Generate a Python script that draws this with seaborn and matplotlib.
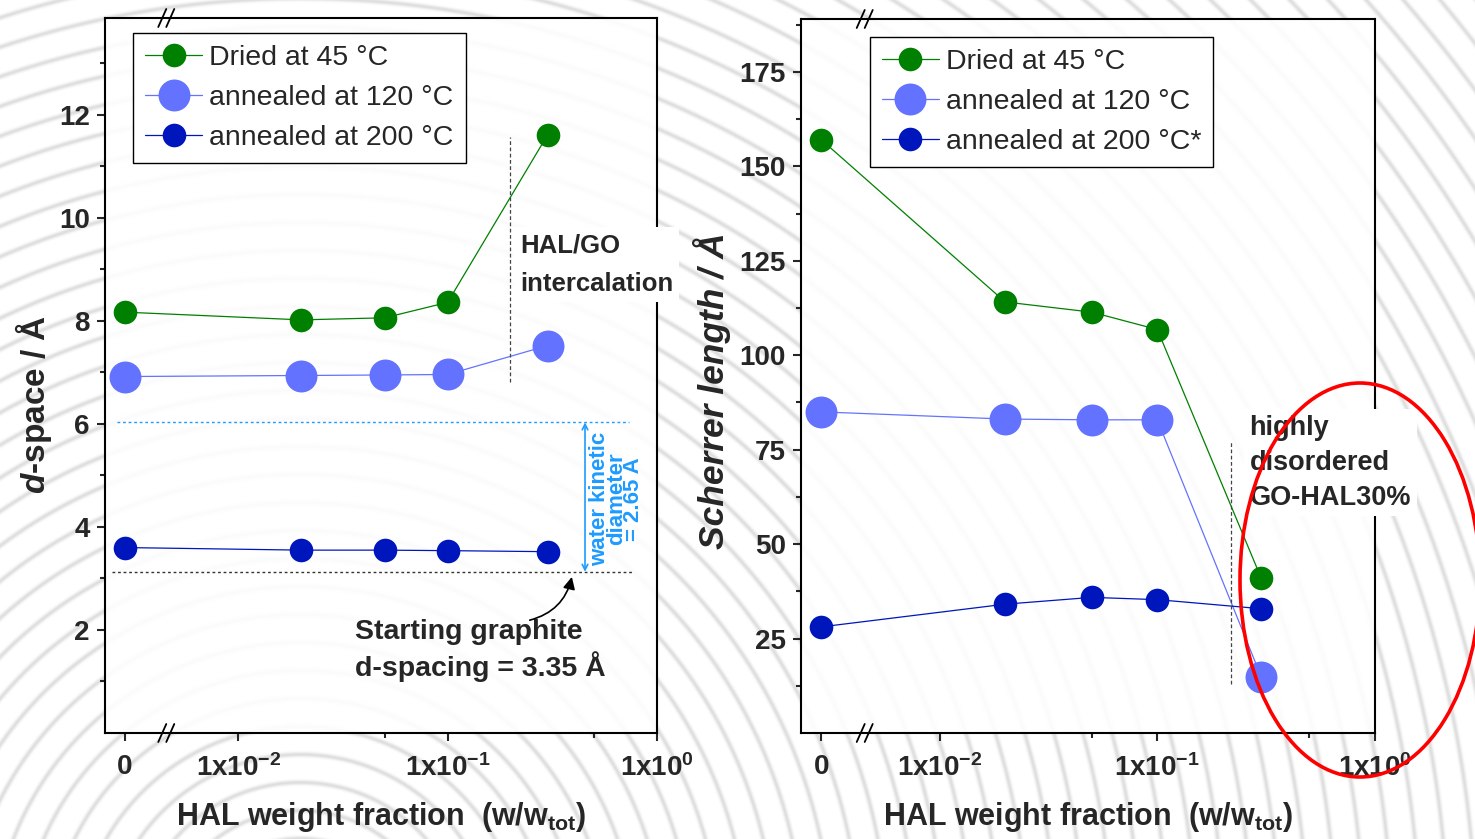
import numpy as np
import matplotlib
matplotlib.use("Agg")
import matplotlib.pyplot as plt
import seaborn as sns
from matplotlib.patches import Ellipse
from matplotlib.ticker import FixedLocator

# HAL weight fraction (w/w_tot), 0 = plain GO
hal_frac = [0, 0.02, 0.05, 0.1, 0.3]

# d-space / A
dspace_45 = [8.17, 8.02, 8.06, 8.36, 11.61]
dspace_120 = [6.92, 6.94, 6.95, 6.96, 7.52]
dspace_200 = [3.60, 3.55, 3.55, 3.54, 3.52]

# Scherrer length / A
scherrer_45 = [157.0, 114.1, 111.4, 106.8, 41.0]
scherrer_120 = [85.0, 83.1, 82.9, 82.9, 14.9]
scherrer_200 = [28.1, 34.1, 35.9, 35.3, 32.9]

labels_left = ["Dried at 45 °C", "annealed at 120 °C", "annealed at 200 °C"]
labels_right = ["Dried at 45 °C", "annealed at 120 °C", "annealed at 200 °C*"]
colors = ["#008000", "#6373ff", "#0016bd"]
msizes = [17, 23, 17]

graphite_line = 3.13   # black dotted reference line
water_line = 6.03      # cyan dotted line (3.35 + 2.65)

xtick_vals = [0, 0.01, 0.1, 1]
xtick_labels = ["0", r"1x10$^{-2}$", r"1x10$^{-1}$", r"1x10$^{0}$"]
xminor_vals = [0.05, 0.5]

sns.set_style("ticks")
plt.rcParams['font.family'] = ['Liberation Sans', 'DejaVu Sans']
plt.rcParams['font.weight'] = 'bold'
plt.rcParams['axes.labelweight'] = 'bold'
plt.rcParams['mathtext.fontset'] = 'custom'
plt.rcParams['mathtext.default'] = 'bf'
plt.rcParams['mathtext.bf'] = 'Liberation Sans:bold'
plt.rcParams['mathtext.rm'] = 'Liberation Sans:bold'
plt.rcParams['mathtext.it'] = 'Liberation Sans:italic:bold'

# broken log axis: zero sits left of the break
ZERO_POS = -2.543
X_LEFT = -2.637

def fwd(x):
    x = np.asarray(x, dtype=float)
    safe = np.where(x > 0, x, 1.0)
    return np.where(x > 0, np.log10(safe), ZERO_POS)

def inv(u):
    return np.power(10.0, u)

fig = plt.figure(figsize=(14.75, 8.39), dpi=100)
W, H = 1475, 839

# faint concentric-arc background
yy, xx = np.mgrid[0:H, 0:W]
r = np.hypot(xx - 300, yy - 950)
d = np.abs(((r + 14) % 28) - 14)
stripes = np.exp(-(d / 2.4) ** 2)
bg = fig.add_axes([0, 0, 1, 1], zorder=-10)
bg.imshow(1 - 0.13 * stripes, cmap='gray', vmin=0, vmax=1, aspect='auto')
bg.axis('off')

ax1 = fig.add_axes([105/W, 1-733/H, 552/W, 715/H])
ax2 = fig.add_axes([801/W, 1-733/H, 574/W, 714/H])


def break_marks(ax, xfrac, w_px, h_px):
    # two slanted strokes crossing the top and bottom spines
    for yb in (0, 1):
        for off in (-4, 4):
            x0 = xfrac + (off - 4) / w_px
            x1 = xfrac + (off + 4) / w_px
            ax.plot([x0, x1], [yb - 9 / h_px, yb + 9 / h_px], transform=ax.transAxes,
                    color='black', lw=1.3, clip_on=False)


def setup(ax, series, labels, ylim, yticks, yminor, leg_anchor, w_px, h_px):
    ax.set_facecolor((1, 1, 1, 0.9))
    ax.set_xscale('function', functions=(fwd, inv))
    for y, lab, c, ms in zip(series, labels, colors, msizes):
        sns.lineplot(x=hal_frac, y=y, ax=ax, color=c, marker='o', markersize=ms,
                     markeredgewidth=0, linewidth=0.9, errorbar=None, label=lab)
    ax.set_xlim(10**X_LEFT, 1)
    ax.set_ylim(*ylim)
    ax.xaxis.set_major_locator(FixedLocator(xtick_vals))
    ax.xaxis.set_minor_locator(FixedLocator(xminor_vals))
    ax.set_xticklabels(xtick_labels)
    ax.yaxis.set_major_locator(FixedLocator(yticks))
    ax.yaxis.set_minor_locator(FixedLocator(yminor))
    ax.tick_params(which='major', direction='out', length=6, width=1.5, labelsize=20, pad=5,
                   top=False, right=False)
    ax.tick_params(axis='x', which='major', pad=9)
    ax.tick_params(which='minor', direction='out', length=3.5, width=1.5, top=False, right=False)
    for s in ax.spines.values():
        s.set_visible(True)
        s.set_linewidth(1.5)
        s.set_color('black')
    break_marks(ax, 0.111, w_px, h_px)
    leg = ax.legend(loc='upper left', bbox_to_anchor=leg_anchor, borderaxespad=0,
                    prop={'weight': 'normal', 'size': 20.5}, frameon=True, fancybox=False,
                    framealpha=1, edgecolor='black', handlelength=2.0, handletextpad=0.25,
                    borderpad=0.42, labelspacing=0.5)
    leg.get_frame().set_linewidth(1.0)


setup(ax1, [dspace_45, dspace_120, dspace_200], labels_left, (0, 13.88),
      [2, 4, 6, 8, 10, 12], [1, 3, 5, 7, 9, 11, 13], (0.051, 0.979), 552, 715)
setup(ax2, [scherrer_45, scherrer_120, scherrer_200], labels_right, (0, 189),
      [25, 50, 75, 100, 125, 150, 175], [12.5, 37.5, 62.5, 87.5, 112.5, 137.5, 162.5, 187.5],
      (0.120, 0.975), 574, 714)

# labels
ax1.set_ylabel(r"$\it{d}$-space / Å", fontsize=24, fontweight='bold', va='center')
ax1.yaxis.set_label_coords(-0.130, 0.459)
ax2.set_ylabel("Scherrer length / Å", fontsize=25.5, fontweight='bold', fontstyle='italic',
               va='center')
ax2.yaxis.set_label_coords(-0.155, 0.479)
for ax in (ax1, ax2):
    ax.set_xlabel(r"HAL weight fraction  (w/w$_{\mathbf{tot}}$)", fontsize=22,
                  fontweight='bold', va='center')
    ax.xaxis.set_label_coords(0.5, -0.117)

# left panel annotations
ax1.plot([0.198, 0.198], [6.82, 11.57], ls=(0, (3, 2)), color='#444444', lw=0.9)
ax1.text(0.221, 9.09, "HAL/GO\nintercalation", ha='left', va='center', fontsize=18.5,
         linespacing=1.8, zorder=5, clip_on=False,
         bbox=dict(facecolor='white', edgecolor='none', pad=4))
ax1.axhline(water_line, xmin=0.022, xmax=0.949, ls=(0, (2, 2)), color='#1e9bff', lw=1)
ax1.axhline(graphite_line, xmin=0.013, xmax=0.957, ls=(0, (2, 2)), color='#333333', lw=1)
ax1.annotate("", xy=(0.453, water_line), xytext=(0.453, graphite_line),
             arrowprops=dict(arrowstyle='<->', color='#1e9bff', lw=1.2, shrinkA=0, shrinkB=0))
ax1.text(0.64, 4.54, "water kinetic\ndiameter\n= 2.65 A", rotation=90, ha='center', va='center',
         fontsize=16, linespacing=0.77, color='#1e9bff', multialignment='center')
ax1.text(0.0359, 1.61, "Starting graphite\nd-spacing = 3.35 Å", ha='left', va='center',
         fontsize=20.5, linespacing=1.25)
ax1.annotate("", xy=(0.392, 3.03), xytext=(0.2466, 2.19),
             arrowprops=dict(arrowstyle='-|>', color='black', lw=1.2, mutation_scale=18,
                             connectionstyle='arc3,rad=0.3', shrinkA=0, shrinkB=0))

# right panel annotations
ax2.plot([0.217, 0.217], [12.85, 77.4], ls=(0, (3, 2)), color='#444444', lw=0.9)
ax2.text(0.265, 71.5, "highly\ndisordered\nGO-HAL30%", ha='left', va='center', fontsize=19.5,
         linespacing=1.44, zorder=5, clip_on=False,
         bbox=dict(facecolor='white', edgecolor='none', pad=4))

ell = Ellipse((1360/W, 1 - 580/H), width=240/W, height=394/H, transform=fig.transFigure,
              fill=False, edgecolor='red', lw=2.6, zorder=20)
fig.patches.append(ell)

fig.savefig('out.png', dpi=100)
